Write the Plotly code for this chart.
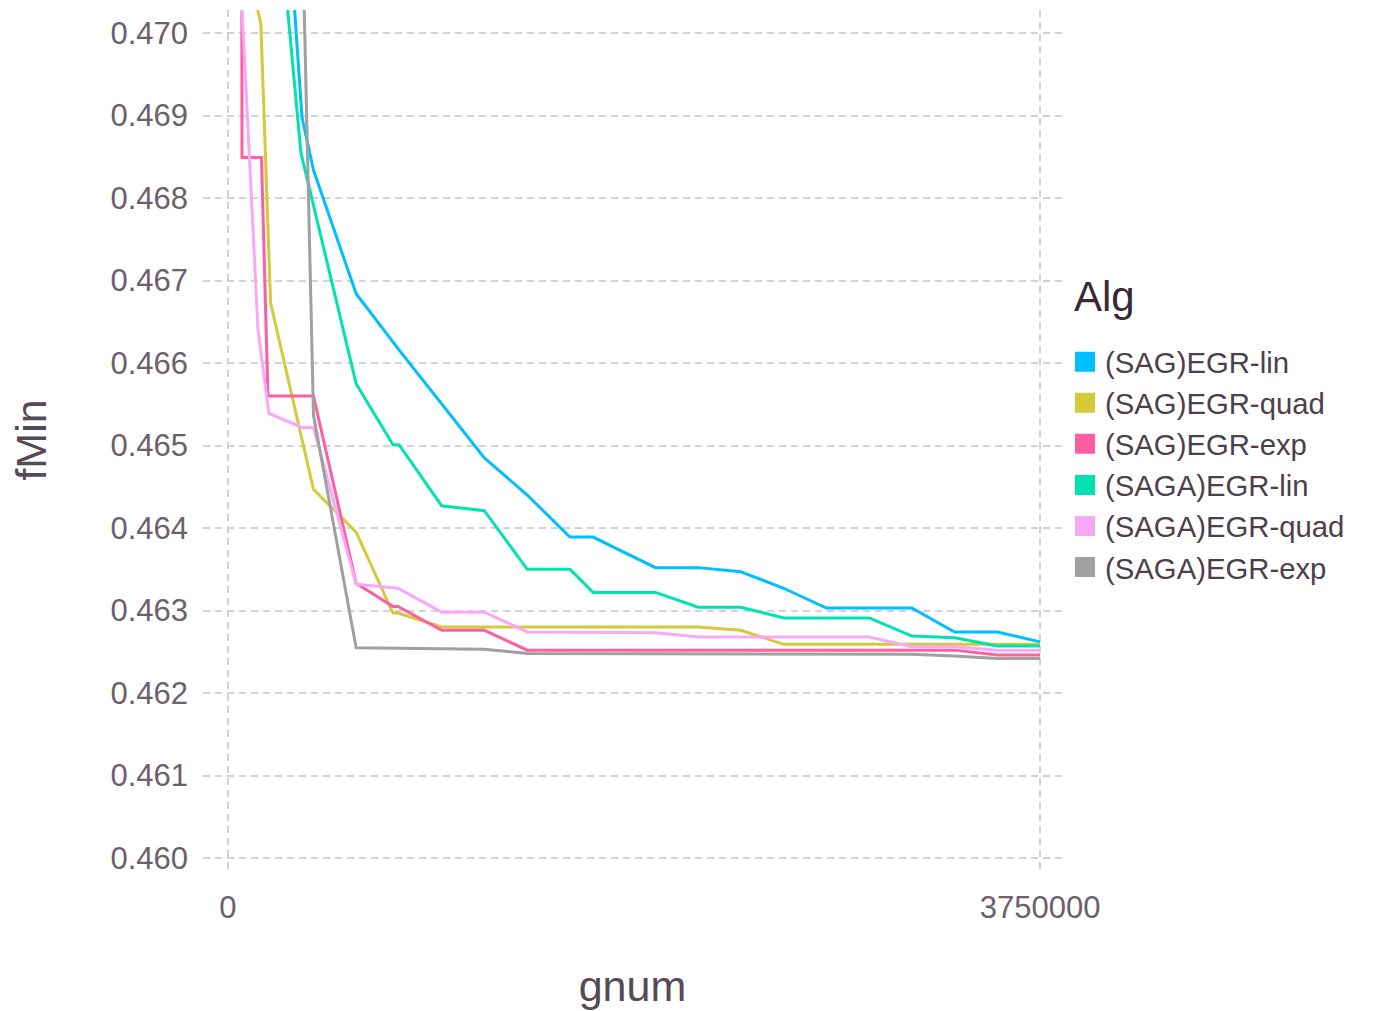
import plotly.graph_objects as go

# ---- data (gnum, fMin) ----
names = ["(SAG)EGR-lin", "(SAG)EGR-quad", "(SAG)EGR-exp",
         "(SAGA)EGR-lin", "(SAGA)EGR-quad", "(SAGA)EGR-exp"]
colors = ["#00BFFF", "#D4CA3A", "#FF5EA0", "#00E3B0", "#F7A8F7", "#A0A0A0"]

sag_lin_x = [0, 197000, 342000, 395000, 592000, 762000, 790000, 1184000, 1382000, 1579000,
             1686000, 1974000, 2171000, 2368000, 2566000, 2763000, 3158000, 3355000, 3553000, 3750000]
sag_lin_y = [0.6931, 0.4745, 0.46898, 0.46834, 0.46684, 0.46625, 0.46616, 0.46485, 0.4644, 0.46389,
             0.46389, 0.46352, 0.46352, 0.46347, 0.46327, 0.46303, 0.46303, 0.46274, 0.46274, 0.46262]

sag_quad_x = [0, 79000, 152000, 197000, 395000, 592000, 762000, 785000, 987000, 2171000,
              2368000, 2566000, 3750000]
sag_quad_y = [0.6931, 0.4709, 0.47012, 0.46673, 0.46447, 0.46395, 0.46297, 0.46297, 0.4628, 0.4628,
              0.46276, 0.46259, 0.46259]

sag_exp_x = [0, 65000, 155000, 185000, 395000, 592000, 762000, 785000, 987000, 1184000,
             1382000, 3355000, 3553000, 3750000]
sag_exp_y = [0.6931, 0.46849, 0.46849, 0.4656, 0.4656, 0.46333, 0.46305, 0.46305, 0.46276, 0.46276,
             0.46252, 0.46252, 0.46246, 0.46246]

saga_lin_x = [0, 208000, 337000, 592000, 762000, 790000, 987000, 1184000, 1382000, 1579000,
              1686000, 1974000, 2171000, 2368000, 2566000, 2961000, 3158000, 3355000, 3553000, 3750000]
saga_lin_y = [0.6931, 0.4722, 0.46855, 0.46575, 0.46501, 0.46501, 0.46427, 0.46421, 0.4635, 0.4635,
              0.46322, 0.46322, 0.46304, 0.46304, 0.46291, 0.46291, 0.46269, 0.46267, 0.46257, 0.46257]

saga_quad_x = [0, 14000, 139000, 189000, 342000, 395000, 592000, 785000, 987000, 1184000,
               1382000, 1974000, 2171000, 2961000, 3158000, 3355000, 3553000, 3750000]
saga_quad_y = [0.6931, 0.4730, 0.4664, 0.46539, 0.46522, 0.46522, 0.46332, 0.46327, 0.46298, 0.46298,
               0.46274, 0.46273, 0.46268, 0.46268, 0.46256, 0.46256, 0.46252, 0.46252]

saga_exp_x = [0, 268000, 395000, 592000, 1184000, 1382000, 3158000, 3355000, 3553000, 3750000]
saga_exp_y = [0.6931, 0.480, 0.46537, 0.46255, 0.46253, 0.46248, 0.46247, 0.46245, 0.46242, 0.46242]

x_tick_vals = [0, 3750000]
x_tick_text = ["0", "3750000"]
y_tick_vals = [0.460, 0.461, 0.462, 0.463, 0.464, 0.465, 0.466, 0.467, 0.468, 0.469, 0.470]
y_tick_text = ["0.460", "0.461", "0.462", "0.463", "0.464", "0.465",
               "0.466", "0.467", "0.468", "0.469", "0.470"]

series = [(sag_lin_x, sag_lin_y), (sag_quad_x, sag_quad_y), (sag_exp_x, sag_exp_y),
          (saga_lin_x, saga_lin_y), (saga_quad_x, saga_quad_y), (saga_exp_x, saga_exp_y)]

FONT = "Liberation Sans, Arial, Helvetica, sans-serif"
GRID = "#D0D0E0"

fig = go.Figure()
for (xs, ys), name, col in zip(series, names, colors):
    fig.add_trace(go.Scatter(x=xs, y=ys, mode="lines", name=name,
                             line=dict(color=col, width=3),
                             showlegend=False))
# legend entries as coloured squares (Gadfly style key)
for name, col in zip(names, colors):
    fig.add_trace(go.Scatter(x=[None], y=[None], mode="markers", name=name,
                             marker=dict(symbol="square", size=16, color=col,
                                         line=dict(color=col, width=4)),
                             showlegend=True))

# key title
fig.add_annotation(text="Alg", xref="paper", yref="paper",
                   x=1.0116, xanchor="left", y=0.6674, yanchor="middle",
                   showarrow=False,
                   font=dict(size=42, color="#362a35", family=FONT))

fig.update_layout(
    width=1373, height=1011,
    margin=dict(l=203, r=311, t=10, b=141),
    paper_bgcolor="white", plot_bgcolor="white",
    font=dict(family=FONT, color="#6c606b"),
    legend=dict(
        font=dict(size=29.3, color="#4c404b", family=FONT),
        x=1.0035, xanchor="left", y=0.6208, yanchor="top",
        itemsizing="trace", tracegroupgap=0, itemwidth=30,
        bgcolor="rgba(0,0,0,0)",
    ),
    xaxis=dict(
        range=[-115000, 3851000],
        tickmode="array", tickvals=x_tick_vals, ticktext=x_tick_text,
        tickfont=dict(size=31, color="#6c606b", family=FONT),
        showgrid=True, gridcolor=GRID, gridwidth=1.5, griddash="7px,5px",
        zeroline=False, showline=False, ticks="",
        ticklabelstandoff=16,
        title=dict(text="gnum", font=dict(size=43, color="#564a55", family=FONT), standoff=46),
    ),
    yaxis=dict(
        range=[0.459855, 0.470279],
        tickmode="array", tickvals=y_tick_vals, ticktext=y_tick_text,
        tickfont=dict(size=31, color="#6c606b", family=FONT),
        showgrid=True, gridcolor=GRID, gridwidth=1.5, griddash="7px,5px",
        zeroline=False, showline=False, ticks="",
        ticklabelstandoff=14,
        title=dict(text="fMin", font=dict(size=43, color="#564a55", family=FONT), standoff=50),
    ),
)

fig.write_html("out.html")
